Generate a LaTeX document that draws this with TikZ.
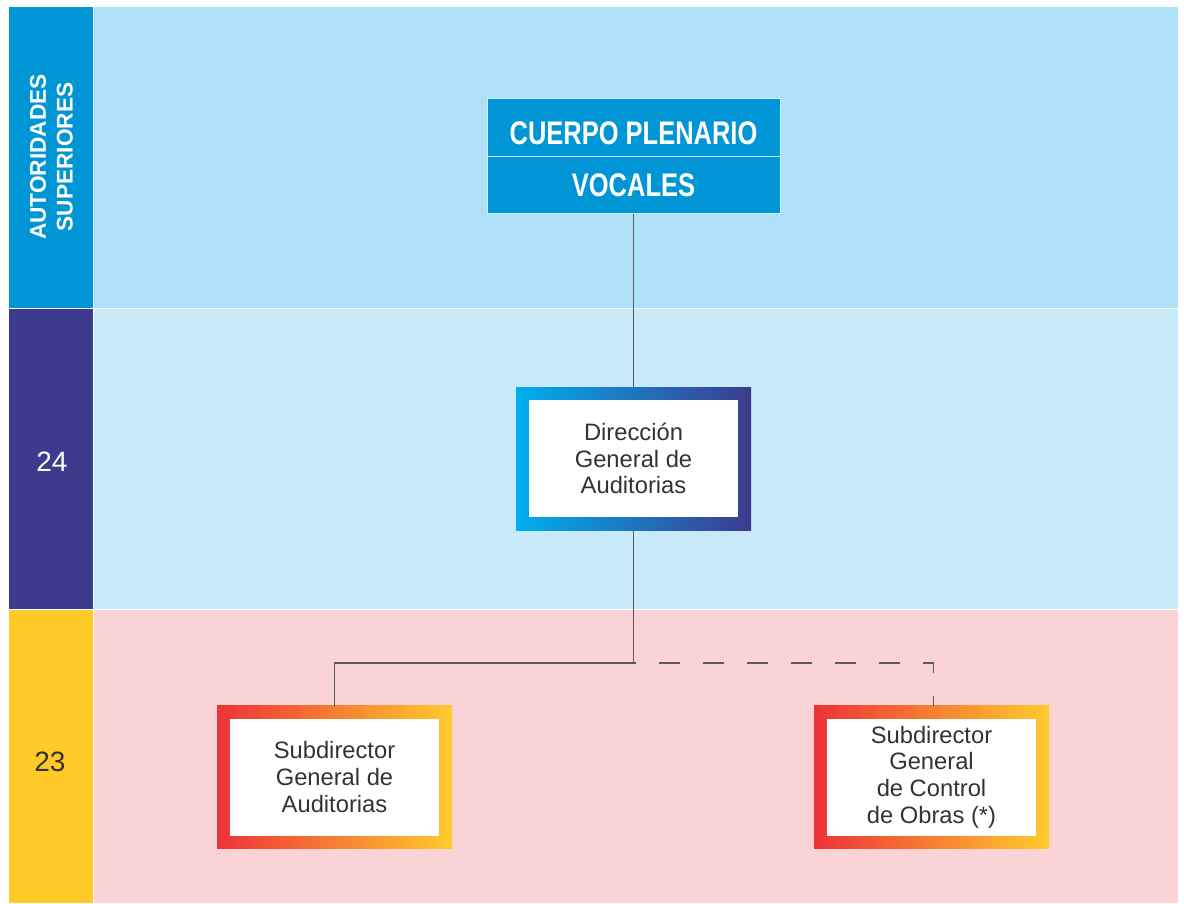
\documentclass[tikz,border=0pt]{standalone}
\usepackage{fontspec}
\setmainfont{Liberation Sans}
\newfontfamily\narrowfont[FakeStretch=0.78]{Liberation Sans}
\usetikzlibrary{positioning}
\definecolor{sideblue}{RGB}{0,150,214}
\definecolor{sidenavy}{RGB}{61,59,142}
\definecolor{sideyellow}{RGB}{255,202,40}
\definecolor{bandblue}{RGB}{174,224,247}
\definecolor{bandlight}{RGB}{200,233,248}
\definecolor{bandpink}{RGB}{249,211,213}
\definecolor{coolleft}{RGB}{0,174,239}
\definecolor{coolright}{RGB}{61,59,142}
\definecolor{warmleft}{RGB}{238,50,56}
\definecolor{warmright}{RGB}{255,203,45}
\definecolor{textgray}{RGB}{51,51,51}
\definecolor{linegray}{RGB}{90,90,90}
\tikzset{
	band/.style={draw=white,line width=0.6pt},%
	sidelabel/.style={font=\fontsize{21}{24}\selectfont},%
	toplabel/.style={white,align=center,rotate=90,font=\bfseries\fontsize{17}{20}\selectfont},%
	topbox/.style={fill=sideblue,draw=bandblue!50!white,line width=0.75pt,text=white,inner sep=0pt,outer sep=0pt,%
		minimum width=219.75pt,minimum height=43.1pt,font=\narrowfont\bfseries\fontsize{24.5}{28}\selectfont},%
	frame/.style={inner sep=0pt,outer sep=0pt,minimum width=176.25pt,minimum height=107.25pt},%
	coolframe/.style={frame,left color=coolleft,right color=coolright},%
	warmframe/.style={frame,left color=warmleft,right color=warmright},%
	innerbox/.style={fill=white,inner sep=0pt,minimum width=156.75pt,minimum height=87.75pt,%
		align=center,text=textgray,font=\fontsize{17.8}{20}\selectfont},%
	orgline/.style={linegray,line width=0.9pt},%
	dashline/.style={orgline,dash pattern=on 16pt off 17pt,dash phase=14.25pt},%
}

\begin{document}
\begin{tikzpicture}[x=0.75pt,y=-0.75pt]
		\useasboundingbox (0,0) rectangle (1184,903);
		% Bands {{{
		\fill[white] (0,0) rectangle (1184,903);
		\filldraw[band,fill=sideblue] (8,6) rectangle (93,308);
		\filldraw[band,fill=sidenavy] (8,308) rectangle (93,609);
		\filldraw[band,fill=sideyellow] (8,609) rectangle (93,903);
		\filldraw[band,fill=bandblue] (93,6) rectangle (1178,308);
		\filldraw[band,fill=bandlight] (93,308) rectangle (1178,609);
		\filldraw[band,fill=bandpink] (93,609) rectangle (1178,903);
		\node[toplabel] (superiores) at (51.5,157) {AUTORIDADES\\SUPERIORES};
		\node[sidelabel,white] (level24) at (52,462) {24};
		\node[sidelabel,textgray] (level23) at (50,762) {23};
		% }}}
		% Boxes {{{
		\node[topbox,text height=26pt,text depth=0pt] (plenario) at (633.5,127.5) {CUERPO PLENARIO};
		\node[topbox,below=0pt of plenario] (vocales) {VOCALES};
		\node[coolframe] (dga) at (633.5,458.5) {};
		\node[innerbox] (dgatext) at (dga) {Dirección\\General de\\Auditorias};
		\node[warmframe] (sga) at (334.5,777) {};
		\node[innerbox] (sgatext) at (sga) {Subdirector\\General de\\Auditorias};
		\node[warmframe] (sgco) at (931.5,777) {};
		\node[innerbox] (sgcotext) at (sgco) {Subdirector\\General\\de Control\\ de Obras (*)};
		% }}}
		% Connectors {{{
		\draw[orgline] (vocales.south) -- (dga.north);
		\draw[orgline] (dga.south) -- ++(0,133) coordinate (split) -| (sga.north);
		\draw[dashline] (split) -| ([xshift=1.5]sgco.north);
		% }}}
	\end{tikzpicture}
\end{document}
